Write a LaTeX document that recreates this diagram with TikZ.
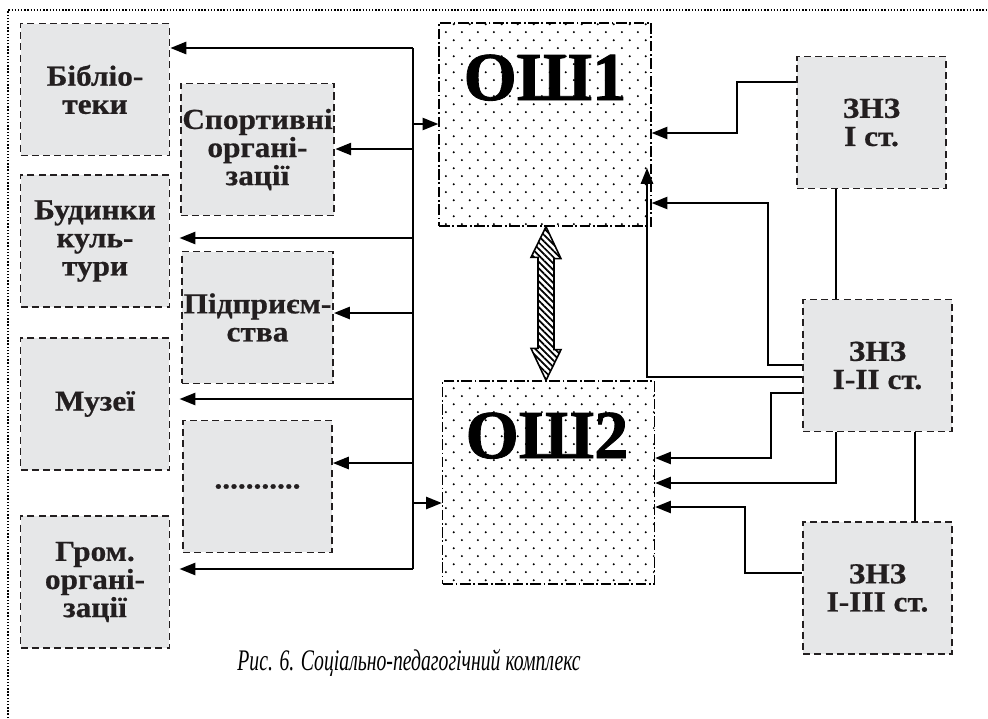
\documentclass[tikz,border=0pt]{standalone}
\usepackage{fontspec}
\setmainfont{Liberation Serif}
\newfontfamily\boxfont[FakeStretch=1.08, BoldFeatures={FakeBold=0.6}]{Liberation Serif}
\newfontfamily\schoolfont[BoldFeatures={FakeBold=1.2}]{Liberation Serif}
\newfontfamily\capfont[FakeStretch=0.66]{Liberation Serif}
\usetikzlibrary{arrows.meta, patterns, patterns.meta, calc}
\definecolor{boxgray}{RGB}{230, 231, 232}
\definecolor{inkdark}{RGB}{35, 31, 32}
\pgfdeclarepatternformonly{schooldots}{\pgfqpoint{0pt}{0pt}}{\pgfqpoint{9pt}{9pt}}{\pgfqpoint{9pt}{9pt}}{%
  \pgfpathcircle{\pgfqpoint{2.25pt}{2.25pt}}{0.65pt}%
  \pgfpathcircle{\pgfqpoint{6.75pt}{6.75pt}}{0.65pt}%
  \pgfusepath{fill}}
\tikzset{
  orgbox/.style={
    draw=inkdark,
    line width=1.1pt,
    dash pattern=on 4pt off 2.4pt,
    fill=boxgray,
    minimum width=2.98cm,
    minimum height=2.64cm,
    inner sep=1pt,
    align=center,
    text=inkdark,
    font=\boxfont\fontsize{16.5}{16}\selectfont\bfseries
  },
  schoolbox/.style={
    draw=black,
    line width=0.8pt,
    dash pattern=on 6pt off 1.5pt on 1pt off 1.5pt,
    pattern=schooldots,
    minimum width=4.24cm,
    minimum height=4.06cm,
    inner sep=0pt
  },
  schooltext/.style={
    anchor=base,
    inner sep=0pt,
    font=\schoolfont\fontsize{39}{39}\selectfont\bfseries
  },
  link/.style={
    -{Triangle[length=9pt,width=7pt]},
    line width=1pt
  },
  joinline/.style={
    line width=1pt
  },
  bothway/.style={
    draw,
    line width=0.9pt,
    pattern={Lines[angle=-45,distance=2.6pt,line width=1pt]}
  }
}
\begin{document}
\begin{tikzpicture}[x=0.02cm, y=-0.02cm]
  \useasboundingbox (0,0) rectangle (988,718);
  \draw[dash pattern=on 0.8pt off 1pt, line width=0.8pt] (8,718) -- (8,10) -- (988,10);

  % organisations
  \node[orgbox] (bib) at (95,89.5) {Бібліо-\\теки};
  \node[orgbox] (bud) at (95,241) {Будинки\\куль-\\тури};
  \node[orgbox] (muz) at (95,404) {Музеї};
  \node[orgbox] (grom) at (95,582) {Гром.\\органі-\\зації};
  \node[orgbox] (sport) at (257.5,149.5) {Спортивні\\органі-\\зації};
  \node[orgbox] (pidp) at (257.5,317.5) {Підприєм-\\ства};
  \node[orgbox] (etc) at (257.5,486.5) {...........};

  % schools
  \node[schoolbox] (osh1) at (545,124.5) {};
  \node[schooltext] (osh1txt) at (545,100) {ОШ1};
  \node[schoolbox] (osh2) at (548.5,482.5) {};
  \node[schooltext] (osh2txt) at (547,458) {ОШ2};

  \node[orgbox] (zns1) at (871.5,122.5) {ЗНЗ\\I ст.};
  \node[orgbox] (zns2) at (877.5,365.5) {ЗНЗ\\I-II ст.};
  \node[orgbox] (zns3) at (877.5,588) {ЗНЗ\\I-III ст.};

  % bus on the left
  \foreach \name/\y in {t1/48, t2/124, t3/149, t4/238, t5/313, t6/399, t7/463, t8/503, t9/569}
    \coordinate (\name) at (413,\y);
  \draw[joinline] (t1) -- (t9);
  \draw[link] (t1) -- (t1 -| bib.east);
  \draw[link] (t3) -- (t3 -| sport.east);
  \draw[link] (t4) -- (t4 -| sport.west);
  \draw[link] (t5) -- (t5 -| pidp.east);
  \draw[link] (t6) -- (t6 -| sport.west);
  \draw[link] (t7) -- (t7 -| etc.east);
  \draw[link] (t9) -- (t9 -| sport.west);
  \draw[link] (t2) -- (t2 -| osh1.west);
  \draw[link] (t8) -- (t8 -| osh2.west);

  % double arrow
  \coordinate (dtop) at (osh1.south -| 546,0);
  \coordinate (dbot) at (osh2.north -| 546,0);
  \draw[bothway] (dtop) -- ++(15,32) -- ++(-7,0) -- ++(0,91) -- ++(7,0) -- (dbot)
    -- ++(-15,-32) -- ++(7,0) -- ++(0,-91) -- ++(-7,0) -- cycle;

  % right side
  \draw[link] (zns1.west |- 0,82) -| (737,133) -- (osh1.east |- 0,133);
  \draw[joinline] (zns1.south -| 836,0) -- (zns2.north -| 836,0);
  \draw[link] (zns2.west |- 0,365) -| (768,203) -- (osh1.east |- 0,203);
  \draw[link] (zns2.west |- 0,377) -| (647,168);
  \draw[link] (zns2.west |- 0,393) -| (771,458) -- (osh2.east |- 0,458);
  \draw[link] (zns2.south -| 836,0) |- (osh2.east |- 0,483);
  \draw[joinline] (zns2.south -| 915,0) -- (zns3.north -| 915,0);
  \draw[link] (zns3.west |- 0,573) -| (745,507) -- (osh2.east |- 0,507);

  \node[font=\capfont\itshape\fontsize{17}{17}\selectfont] (caption) at (409,663)
    {Рис. 6. Соціально-педагогічний комплекс};
\end{tikzpicture}
\end{document}
